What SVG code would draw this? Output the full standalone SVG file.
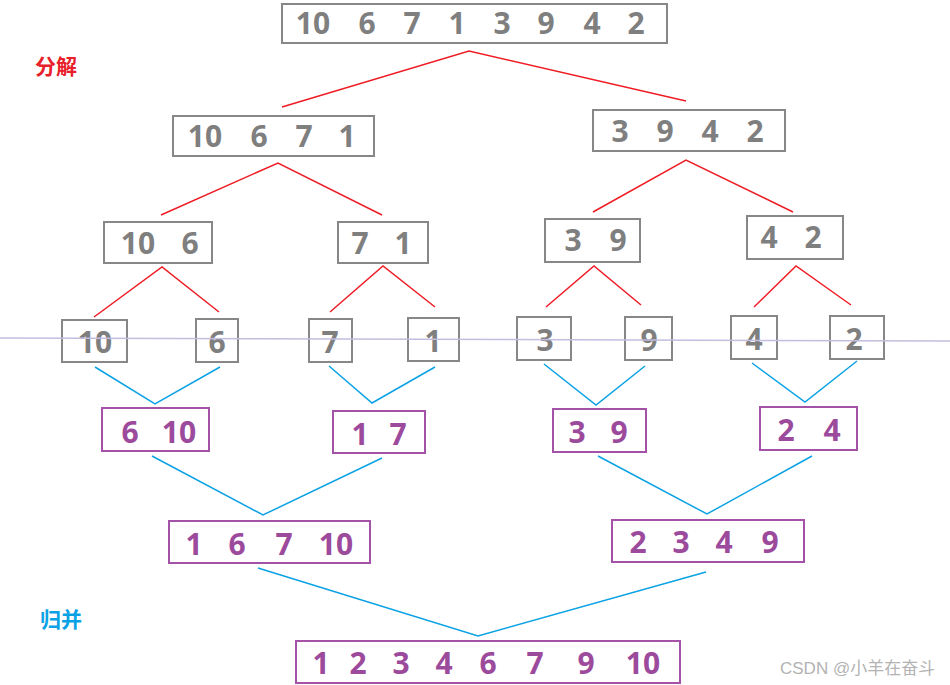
<svg xmlns="http://www.w3.org/2000/svg" width="950" height="685" viewBox="0 0 950 685">
<style>
.g{fill:#fff;stroke:#878787;stroke-width:2}
.p{fill:#fff;stroke:#a352a8;stroke-width:2}
.gt{font-family:"Open Sans","Noto Sans",sans-serif;font-weight:bold;font-size:30px;fill:#7f7f7f;text-anchor:middle}
.pt{font-family:"Open Sans","Noto Sans",sans-serif;font-weight:bold;font-size:30px;fill:#9c4a9c;text-anchor:middle}
.r{fill:none;stroke:#ee1c25;stroke-width:1.5}
.b{fill:none;stroke:#0aa2e4;stroke-width:1.5}
</style>
<rect width="950" height="685" fill="#fff"/>
<g id="connectors">
<polyline class="r" points="282,107 469,51 686,101"/>
<polyline class="r" points="161,215 278,163 382,215"/>
<polyline class="r" points="593,212 686,160 793,212"/>
<polyline class="r" points="94,317 162,267 219,312"/>
<polyline class="r" points="330,312 383,266 435,307"/>
<polyline class="r" points="546,307 594,266 641,305"/>
<polyline class="r" points="754,307 796,266 851,305"/>
<polyline class="b" points="95,367 155,404 220,367"/>
<polyline class="b" points="329,366 372,403 435,367"/>
<polyline class="b" points="544,364 596,405 645,366"/>
<polyline class="b" points="752,363 805,402 857,361"/>
<polyline class="b" points="152,456 263,515 382,458"/>
<polyline class="b" points="598,456 707,514 812,456"/>
<polyline class="b" points="258,568 478,636 706,572"/>
</g>
<g id="n0"><rect class="g" x="282" y="4" width="385" height="39"/>
<text class="gt" y="34"><tspan x="313">10</tspan><tspan x="367">6</tspan><tspan x="412">7</tspan><tspan x="457">1</tspan><tspan x="502">3</tspan><tspan x="546">9</tspan><tspan x="592">4</tspan><tspan x="636">2</tspan></text></g>
<g id="n1"><rect class="g" x="173" y="116" width="201" height="40"/>
<text class="gt" y="147"><tspan x="205">10</tspan><tspan x="259">6</tspan><tspan x="304">7</tspan><tspan x="347">1</tspan></text></g>
<g id="n2"><rect class="g" x="593" y="110" width="192" height="41"/>
<text class="gt" y="142"><tspan x="620">3</tspan><tspan x="665">9</tspan><tspan x="710">4</tspan><tspan x="755">2</tspan></text></g>
<g id="n3"><rect class="g" x="104" y="222" width="108" height="41"/>
<text class="gt" y="254"><tspan x="138">10</tspan><tspan x="190">6</tspan></text></g>
<g id="n4"><rect class="g" x="338" y="222" width="90" height="41"/>
<text class="gt" y="254"><tspan x="360">7</tspan><tspan x="403">1</tspan></text></g>
<g id="n5"><rect class="g" x="545" y="219" width="95" height="43"/>
<text class="gt" y="251"><tspan x="573">3</tspan><tspan x="618">9</tspan></text></g>
<g id="n6"><rect class="g" x="747" y="216" width="96" height="43"/>
<text class="gt" y="248"><tspan x="769">4</tspan><tspan x="813">2</tspan></text></g>
<g id="n7"><rect class="g" x="62" y="320" width="65" height="42"/><text class="gt" x="95" y="353">10</text></g>
<g id="n8"><rect class="g" x="196" y="319" width="42" height="43"/><text class="gt" x="217" y="353">6</text></g>
<g id="n9"><rect class="g" x="309" y="319" width="43" height="43"/><text class="gt" x="330" y="353">7</text></g>
<g id="n10"><rect class="g" x="408" y="318" width="51" height="43"/><text class="gt" x="433" y="352">1</text></g>
<g id="n11"><rect class="g" x="517" y="317" width="54" height="43"/><text class="gt" x="545" y="351">3</text></g>
<g id="n12"><rect class="g" x="625" y="317" width="47" height="43"/><text class="gt" x="649" y="351">9</text></g>
<g id="n13"><rect class="g" x="731" y="316" width="46" height="43"/><text class="gt" x="754" y="350">4</text></g>
<g id="n14"><rect class="g" x="830" y="316" width="54" height="43"/><text class="gt" x="854" y="350">2</text></g>
<line x1="0" y1="338" x2="950" y2="341" stroke="#c4bde0" stroke-width="1.5"/>
<g id="n15"><rect class="p" x="102" y="408" width="107" height="43"/>
<text class="pt" y="443"><tspan x="130">6</tspan><tspan x="179">10</tspan></text></g>
<g id="n16"><rect class="p" x="333" y="411" width="92" height="42"/>
<text class="pt" y="445"><tspan x="360">1</tspan><tspan x="398">7</tspan></text></g>
<g id="n17"><rect class="p" x="553" y="409" width="93" height="43"/>
<text class="pt" y="443"><tspan x="577">3</tspan><tspan x="619">9</tspan></text></g>
<g id="n18"><rect class="p" x="760" y="407" width="97" height="43"/>
<text class="pt" y="441"><tspan x="786">2</tspan><tspan x="832">4</tspan></text></g>
<g id="n19"><rect class="p" x="169" y="521" width="201" height="42"/>
<text class="pt" y="555"><tspan x="194">1</tspan><tspan x="237">6</tspan><tspan x="284">7</tspan><tspan x="336">10</tspan></text></g>
<g id="n20"><rect class="p" x="612" y="520" width="192" height="42"/>
<text class="pt" y="553"><tspan x="638">2</tspan><tspan x="681">3</tspan><tspan x="724">4</tspan><tspan x="770">9</tspan></text></g>
<g id="n21"><rect class="p" x="296" y="641" width="384" height="42"/>
<text class="pt" y="674"><tspan x="321">1</tspan><tspan x="358">2</tspan><tspan x="401">3</tspan><tspan x="444">4</tspan><tspan x="488">6</tspan><tspan x="535">7</tspan><tspan x="586">9</tspan><tspan x="643">10</tspan></text></g>
<text x="35" y="74" font-family="'Noto Sans CJK SC',sans-serif" font-weight="bold" font-size="21" fill="#e8202a">分解</text>
<text x="40" y="627" font-family="'Noto Sans CJK SC',sans-serif" font-weight="bold" font-size="21" fill="#0aa2e4">归并</text>
<text x="780" y="674" font-family="'Liberation Sans','Noto Sans CJK SC',sans-serif" font-size="17" fill="#b3b3b3">CSDN @小羊在奋斗</text>
</svg>
